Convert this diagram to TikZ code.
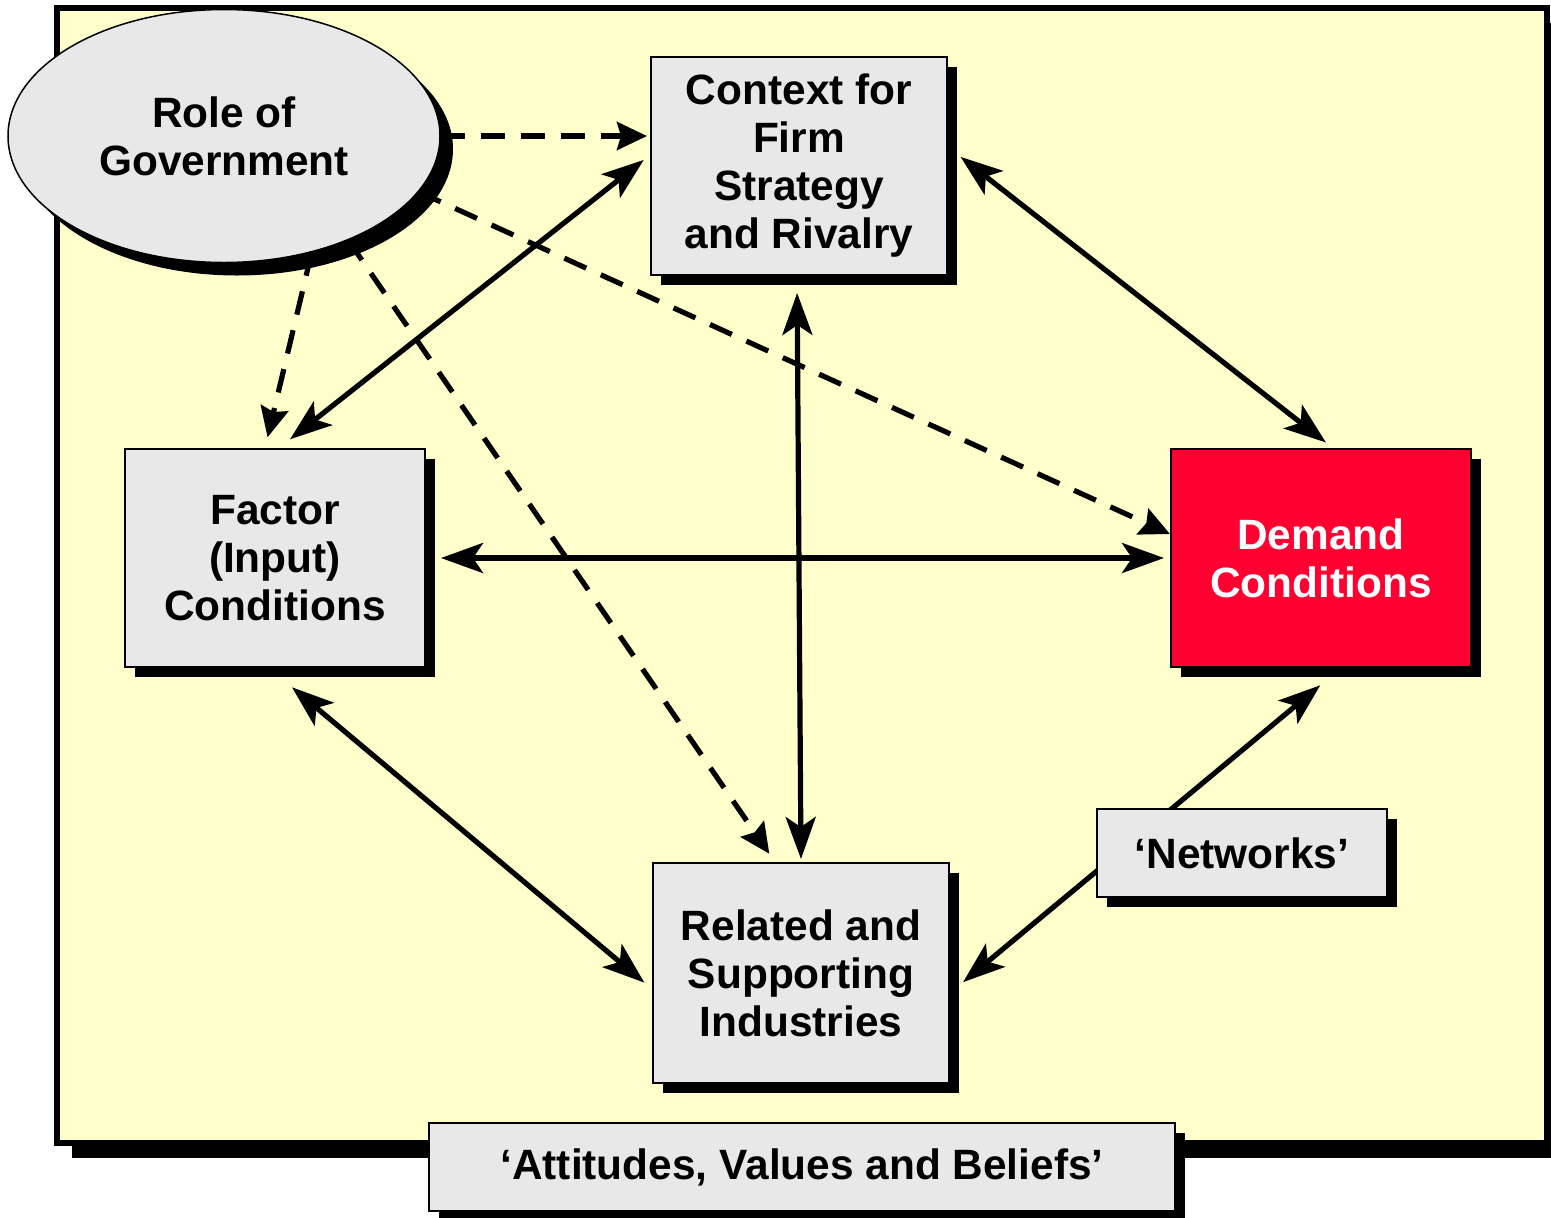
\documentclass[tikz,border=0pt]{standalone}
\usepackage{fontspec}
\setmainfont{Liberation Sans}
\usetikzlibrary{shapes.geometric,shadows,arrows.meta}
\definecolor{framefill}{HTML}{FFFFCC}
\definecolor{boxfill}{HTML}{E8E8E8}
\definecolor{demandred}{HTML}{FF0030}
\begin{document}
\begin{tikzpicture}[x=0.5pt,y=-0.5pt,
  boxtext/.style={font=\fontsize{21.2}{24}\selectfont\bfseries, align=center},
  hardshadow/.style={drop shadow={shadow xshift=#1, shadow yshift=-#1, fill=black, opacity=1}},
  diamondbox/.style={draw, line width=1pt, fill=boxfill, inner sep=0pt, boxtext, hardshadow=5pt},
  twoway/.style={line width=2.6pt, {Stealth[length=21pt,width=15pt,inset=5pt]}-{Stealth[length=21pt,width=15pt,inset=5pt]}},
  govlink/.style={line width=2.6pt, dash pattern=on 12pt off 8pt, -{Stealth[length=15pt,width=14pt,inset=2pt]}}]
\useasboundingbox (0,0) rectangle (1551,1217);
% frame
\node[draw, line width=2.75pt, fill=framefill, minimum width=745pt, minimum height=567.5pt, hardshadow=7.5pt] (frame) at (802,575.5){};
% the diamond
\node[ellipse, draw, line width=0.75pt, fill=boxfill, minimum width=216pt, minimum height=126.5pt, inner sep=0pt, boxtext, hardshadow=6.5pt] (gov) at (224,136){Role of\\Government};
\node[diamondbox, minimum width=148pt, minimum height=109pt] (ctx) at (799,166){Context for\\Firm\\Strategy\\and Rivalry};
\node[diamondbox, minimum width=150pt, minimum height=109pt] (fac) at (275,558){Factor\\(Input)\\Conditions};
\node[diamondbox, minimum width=150pt, minimum height=109pt, fill=demandred, text=white] (dem) at (1321,558){Demand\\Conditions};
\node[diamondbox, minimum width=148pt, minimum height=110pt] (rel) at (801,973){Related and\\Supporting\\Industries};
% government links
\draw[govlink, shorten >=1.5pt] (gov.east) -- (gov.east -| ctx.west);
\draw[govlink, shorten >=5.5pt] (gov.-53) -- ([xshift=-5pt]fac.north);
\draw[govlink, shorten >=5pt] (gov.-40) -- ([xshift=-13pt]rel.north);
\draw[govlink] (gov.-16) -- ([yshift=12pt]dem.west);
% two-way links
\draw[twoway, shorten <=7pt, shorten >=4pt] ([xshift=2pt]fac.north) -- ([yshift=5.5pt]ctx.west);
\draw[twoway, shorten <=8pt, shorten >=4.5pt] ([yshift=9.5pt]ctx.east) -- ([xshift=6pt]dem.north);
\draw[twoway, shorten <=8.5pt, shorten >=1.5pt] ([xshift=-1pt]ctx.south) -- (rel.north);
\draw[twoway, shorten <=7.5pt, shorten >=3pt] (fac.east) -- (dem.west);
\draw[twoway, shorten <=15pt, shorten >=5pt] ([xshift=-3pt]fac.south) -- ([yshift=-8pt]rel.west);
\draw[twoway, shorten <=8.5pt, shorten >=13.5pt] ([yshift=-10pt]rel.east) -- ([xshift=10pt]dem.south);
% labels on top
\node[diamondbox, minimum width=145pt, minimum height=44pt] (net) at (1242,853){‘Networks’};
\node[diamondbox, minimum width=373pt, minimum height=44pt] (att) at (802,1167){‘Attitudes, Values and Beliefs’};
\end{tikzpicture}
\end{document}
